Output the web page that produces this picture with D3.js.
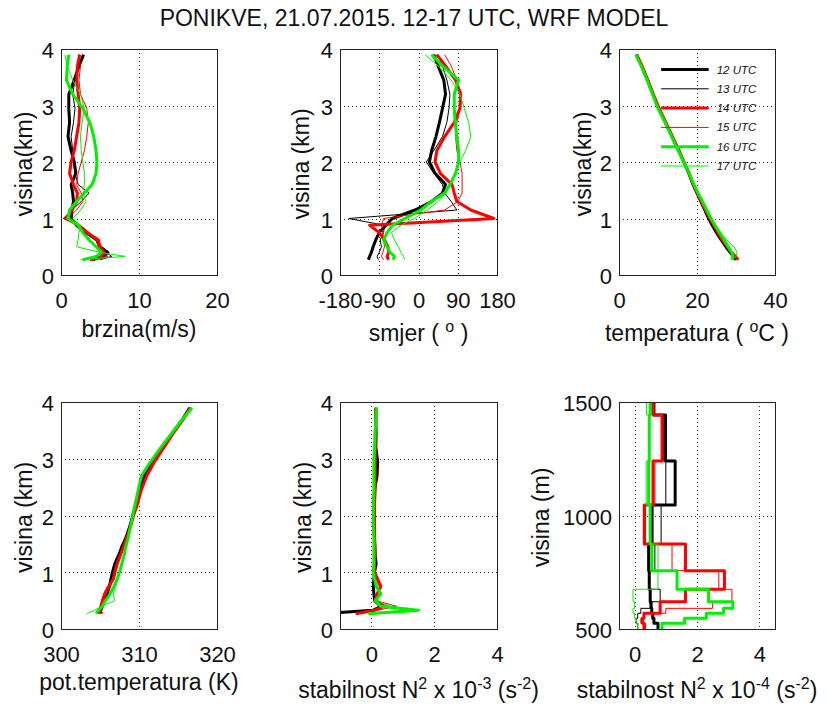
<!DOCTYPE html>
<html><head><meta charset="utf-8">
<script src="https://cdn.jsdelivr.net/npm/d3@7"></script>
<style>
body{margin:0;background:#fff}
svg{display:block}
text{font-family:"Liberation Sans",Arial,sans-serif;fill:#111}
</style>
</head><body>
<svg id="c" width="828" height="706"></svg>
<script>
// ---------------- DATA ----------------
const hours = ["12 UTC","13 UTC","14 UTC","15 UTC","16 UTC","17 UTC"];
const heights = [0.27,0.33,0.4,0.5,0.62,0.75,0.88,1.0,1.15,1.3,1.45,1.6,1.8,2.0,2.2,2.45,2.7,2.95,3.2,3.45,3.7,3.9];

const speed12 = [4.0,5.5,6.0,5.0,4.6,3.2,2.0,1.3,1.4,1.6,1.5,1.3,1.9,1.7,1.3,0.9,1.1,1.0,1.0,1.7,2.3,2.9];
const speed13 = [5.0,6.5,5.8,4.8,4.5,3.6,2.4,0.3,1.4,2.6,3.6,2.2,1.8,1.6,1.5,1.3,1.6,1.8,1.5,1.8,2.2,2.4];
const speed14 = [3.7,5.2,5.5,5.0,4.8,3.4,2.3,0.6,1.4,2.0,2.1,1.6,1.1,1.3,1.7,2.0,2.3,2.4,2.2,2.0,2.1,2.4];
const speed15 = [4.5,6.0,5.3,4.8,4.5,3.3,2.0,0.8,2.0,2.8,2.6,2.0,2.2,2.6,3.0,3.3,3.5,3.3,2.5,2.3,2.5,2.2];
const speed16 = [2.8,4.5,5.2,4.5,3.6,2.8,2.2,0.9,1.1,2.0,3.0,4.0,4.5,4.6,4.5,4.2,3.7,2.8,1.5,0.7,0.8,1.0];
const speed17 = [2.5,8.2,5.0,2.0,2.2,2.3,2.5,1.5,2.5,3.2,2.8,3.0,3.0,2.8,2.6,2.5,2.7,3.0,2.5,1.5,0.8,0.5];

const dir12 = [-115,-112,-108,-104,-98,-90,-75,-60,-8,30,55,62,38,25,30,40,48,55,62,58,45,35];
const dir13 = [-92,-95,-90,-85,-88,-80,-78,-160,88,75,60,55,35,18,35,55,65,70,72,65,55,45];
const dir14 = [-69,-72,-68,-70,-78,-90,-112,173,120,88,82,77,50,38,42,60,82,95,97,85,62,42];
const dir15 = [-80,-85,-82,-78,-80,-82,-85,-80,60,90,100,100,100,95,88,85,88,95,95,88,75,60];
const dir16 = [-58,-55,-65,-72,-80,-72,-60,-31,5,30,60,72,85,92,92,88,84,82,82,92,55,30];
const dir17 = [-31,-35,-40,-46,-55,-62,-40,-10,20,45,62,75,85,95,108,120,115,105,95,75,45,15];

const temp12 = [30.0,29.3,28.5,27.4,26.2,25.0,23.9,23.0,22.0,21.0,20.0,19.0,17.9,16.6,15.3,13.6,11.9,10.1,8.7,7.3,5.8,4.5];
const temp13 = [30.2,29.5,28.6,27.6,26.4,25.2,24.0,23.1,22.1,21.1,20.1,19.1,17.9,16.6,15.3,13.6,11.9,10.1,8.6,7.2,5.7,4.4];
const temp14 = [30.6,29.8,28.9,27.8,26.5,25.4,24.3,23.3,22.2,21.1,20.1,19.1,18.0,16.7,15.4,13.7,12.0,10.3,8.8,7.4,5.9,4.5];
const temp15 = [30.4,29.6,28.8,27.7,26.6,25.4,24.3,23.3,22.2,21.1,20.1,19.1,18.0,16.7,15.4,13.7,12.0,10.2,8.7,7.3,5.8,4.4];
const temp16 = [28.9,29.2,28.9,28.0,27.0,25.8,24.6,23.6,22.5,21.4,20.3,19.2,18.0,16.6,15.2,13.5,11.8,10.0,8.6,7.2,5.7,4.3];
const temp17 = [29.2,30.0,30.3,29.5,27.6,26.0,24.7,23.6,22.5,21.4,20.3,19.2,18.0,16.6,15.2,13.5,11.8,10.0,8.6,7.2,5.7,4.3];

const theta12 = [305.0,305.1,305.3,305.6,305.9,306.2,306.4,306.6,306.9,307.4,307.8,308.3,308.8,309.2,309.6,310.1,310.7,311.8,313.0,314.3,315.6,316.5];
const theta13 = [304.8,305.0,305.3,305.6,305.9,306.3,306.6,306.8,307.1,307.5,307.9,308.3,308.8,309.2,309.6,310.1,310.7,311.8,313.0,314.3,315.6,316.6];
const theta14 = [305.2,305.0,305.1,305.3,305.6,306.1,306.7,306.9,307.2,307.6,308.0,308.4,308.9,309.3,309.8,310.3,311.0,312.0,313.2,314.4,315.7,316.6];
const theta15 = [305.3,305.1,305.2,305.4,305.8,306.3,306.8,307.0,307.3,307.7,308.1,308.5,308.9,309.3,309.8,310.3,310.9,311.9,313.1,314.4,315.7,316.6];
const theta16 = [304.5,304.8,305.3,305.7,306.3,306.8,307.2,307.5,307.8,308.1,308.3,308.6,308.9,309.2,309.5,309.9,310.3,311.5,312.8,314.2,315.6,316.8];
const theta17 = [303.3,304.3,305.2,306.9,306.7,307.0,307.3,307.6,307.8,308.1,308.4,308.6,308.9,309.2,309.5,309.9,310.4,311.6,312.9,314.2,315.6,316.8];

const n2km12 = [-1.6,0.05,0.3,0.1,0.08,0.06,0.08,0.1,0.15,0.12,0.1,0.1,0.08,0.08,0.08,0.1,0.18,0.2,0.14,0.15,0.14,0.15];
const n2km13 = [-1.3,0.1,0.5,0.12,0.1,0.08,0.1,0.1,0.12,0.1,0.1,0.1,0.1,0.1,0.1,0.12,0.12,0.14,0.14,0.13,0.14,0.14];
const n2km14 = [-0.5,0.1,0.4,0.12,0.18,0.3,0.2,0.1,0.1,0.12,0.12,0.1,0.1,0.1,0.1,0.12,0.12,0.12,0.13,0.12,0.14,0.13];
const n2km15 = [-0.4,0.2,0.8,0.15,0.2,0.25,0.15,0.1,0.1,0.1,0.12,0.1,0.1,0.1,0.1,0.1,0.12,0.12,0.12,0.12,0.13,0.13];
const n2km16 = [-0.1,1.5,0.3,0.12,0.3,0.15,0.1,0.06,0.08,0.08,0.08,0.08,0.06,0.06,0.06,0.08,0.08,0.08,0.1,0.12,0.14,0.16];
const n2km17 = [0.0,1.05,0.6,0.2,0.25,0.2,0.1,0.08,0.08,0.08,0.08,0.08,0.08,0.07,0.08,0.08,0.1,0.1,0.1,0.12,0.14,0.15];

const layerEdges = [500,525,547,569,591,620,675,757,874,1046,1240,1443,1500];
const n2m12 = [0.75,0.62,0.58,0.55,0.53,0.50,0.47,0.45,0.56,1.30,0.99,0.62];
const n2m13 = [0.10,0.05,0.10,0.20,0.50,0.82,0.45,0.65,0.85,1.00,0.93,0.60];
const n2m14 = [0.30,0.25,0.30,0.82,0.82,1.63,2.88,1.63,0.31,0.59,0.88,0.60];
const n2m15 = [0.35,0.20,0.30,1.00,2.50,3.12,2.70,1.20,0.35,0.65,0.90,0.55];
const n2m16 = [0.88,1.60,2.30,2.85,3.15,2.37,1.36,0.55,0.50,0.45,0.47,0.50];
const n2m17 = [0.10,0.05,0.00,-0.05,0.00,-0.05,0.75,0.75,0.50,0.37,0.45,0.38];

const kmTicks = [0,1,2,3,4];
const speedTicks = [0,10,20];
const dirTicks = [-180,-90,0,90,180];
const tempTicks = [0,20,40];
const thetaTicks = [300,310,320];
const n2kmTicks = [0,2,4];
const n2mTicks = [0,2,4];
const mTicks = [500,1000,1500];

// ---------------- STYLE ----------------
const colors = ["#000000","#000000","#ff0000","#ff0000","#00f000","#00f000"];
const widths = [3,1,3,1,3,1];
const FONT_TICK = 22, FONT_LAB = 23, FONT_SUP = 16;

const svg = d3.select("#c");

function richText(parent, x, y, parts, opts={}) {
  const t = parent.append("text").attr("x", x).attr("y", y)
    .attr("text-anchor", "middle").attr("font-size", FONT_LAB);
  if (opts.rotate) t.attr("transform", `rotate(-90,${x},${y})`);
  let up = false;
  parts.forEach(p => {
    const isSup = Array.isArray(p);
    const s = t.append("tspan").text(isSup ? p[0] : p);
    if (isSup) { s.attr("dy", -9).attr("font-size", FONT_SUP); up = true; }
    else if (up) { s.attr("dy", 9); up = false; }
  });
  return t;
}

let clipN = 0;
function panel(cfg) {
  const x = d3.scaleLinear().domain(cfg.xDomain).range([cfg.left, cfg.right]);
  const y = d3.scaleLinear().domain(cfg.yDomain).range([cfg.bottom, cfg.top]);
  const g = svg.append("g");
  const cid = "clip" + (clipN++);
  svg.append("clipPath").attr("id", cid).append("rect")
    .attr("x", cfg.left).attr("y", cfg.top)
    .attr("width", cfg.right - cfg.left).attr("height", cfg.bottom - cfg.top);

  // grid
  const gx = cfg.xTicks.filter(d => d > cfg.xDomain[0] && d < cfg.xDomain[1]);
  const gy = cfg.yTicks.filter(d => d > cfg.yDomain[0] && d < cfg.yDomain[1]);
  g.append("g").selectAll("line").data(gx).join("line")
    .attr("x1", d => Math.round(x(d)) + 0.5).attr("x2", d => Math.round(x(d)) + 0.5)
    .attr("y1", cfg.top).attr("y2", cfg.bottom)
    .attr("stroke", "#333").attr("stroke-width", 1).attr("stroke-dasharray", "1,3");
  g.append("g").selectAll("line").data(gy).join("line")
    .attr("y1", d => Math.round(y(d)) + 0.5).attr("y2", d => Math.round(y(d)) + 0.5)
    .attr("x1", cfg.left).attr("x2", cfg.right)
    .attr("stroke", "#333").attr("stroke-width", 1).attr("stroke-dasharray", "1,3");

  // series
  const line = d3.line().x(d => x(d[0])).y(d => y(d[1]))
    .curve(cfg.step ? d3.curveStepBefore : d3.curveLinear);
  const lg = g.append("g").attr("clip-path", `url(#${cid})`);
  cfg.series.forEach((vals, i) => {
    const pts = vals.map((v, k) => [v, cfg.levels[k]]);
    if (cfg.step) pts.push([vals[vals.length - 1], cfg.levels[vals.length]]);
    lg.append("path").attr("d", line(pts)).attr("fill", "none")
      .attr("stroke", colors[i]).attr("stroke-width", widths[i])
      .attr("stroke-linejoin", "round").attr("stroke-linecap", "butt");
  });

  // box
  g.append("rect").attr("x", cfg.left + 0.5).attr("y", cfg.top + 0.5)
    .attr("width", cfg.right - cfg.left).attr("height", cfg.bottom - cfg.top)
    .attr("fill", "none").attr("stroke", "#222").attr("stroke-width", 1);

  // axes
  const fmt = d => String(d);
  const ax = g.append("g").attr("transform", `translate(0,${cfg.bottom})`)
    .call(d3.axisBottom(x).tickValues(cfg.xTicks).tickSize(0).tickFormat(fmt));
  ax.select(".domain").remove();
  ax.selectAll("text").attr("y", 33).attr("dy", null)
    .attr("font-size", FONT_TICK).attr("font-family", null).attr("fill", "#111");
  const ay = g.append("g").attr("transform", `translate(${cfg.left},0)`)
    .call(d3.axisLeft(y).tickValues(cfg.yTicks).tickSize(0).tickPadding(7).tickFormat(fmt));
  ay.select(".domain").remove();
  ay.selectAll("text").attr("dy", "0.40em")
    .attr("font-size", FONT_TICK).attr("font-family", null).attr("fill", "#111");

  // labels
  richText(svg, (cfg.left + cfg.right) / 2, cfg.xLabelY, cfg.xLabel);
  richText(svg, cfg.yLabelX, (cfg.top + cfg.bottom) / 2 + 2, cfg.yLabel, {rotate: true});
  return {x, y, g};
}

const topRow = {top: 49, bottom: 275, xLabelY: 337};
const botRow = {top: 402, bottom: 629, xLabelY: 690};
const col = [{left: 61, right: 217}, {left: 340, right: 497}, {left: 619, right: 775}];

panel({...topRow, ...col[0], xDomain: [0,20], yDomain: [0,4], xTicks: speedTicks, yTicks: kmTicks,
  levels: heights, series: [speed12,speed13,speed14,speed15,speed16,speed17],
  xLabel: ["brzina(m/s)"], yLabel: ["visina(km)"], yLabelX: 32});

panel({...topRow, ...col[1], xLabelY: 341, xDomain: [-180,180], yDomain: [0,4], xTicks: dirTicks, yTicks: kmTicks,
  levels: heights, series: [dir12,dir13,dir14,dir15,dir16,dir17],
  xLabel: ["smjer ( ", ["o"], " )"], yLabel: ["visina (km)"], yLabelX: 309});

const p3 = panel({...topRow, ...col[2], xLabelY: 341, xDomain: [0,40], yDomain: [0,4], xTicks: tempTicks, yTicks: kmTicks,
  levels: heights, series: [temp12,temp13,temp14,temp15,temp16,temp17],
  xLabel: ["temperatura ( ", ["o"], "C )"], yLabel: ["visina(km)"], yLabelX: 591});

panel({...botRow, ...col[0], xDomain: [300,320], yDomain: [0,4], xTicks: thetaTicks, yTicks: kmTicks,
  levels: heights, series: [theta12,theta13,theta14,theta15,theta16,theta17],
  xLabel: ["pot.temperatura (K)"], yLabel: ["visina (km)"], yLabelX: 32});

panel({...botRow, ...col[1], xLabelY: 698, xDomain: [-1,4], yDomain: [0,4], xTicks: n2kmTicks, yTicks: kmTicks,
  levels: heights, series: [n2km12,n2km13,n2km14,n2km15,n2km16,n2km17],
  xLabel: ["stabilnost N", ["2"], " x 10", ["-3"], " (s", ["-2"], ")"], yLabel: ["visina (km)"], yLabelX: 311});

panel({...botRow, ...col[2], xLabelY: 698, xDomain: [-0.5,4.5], yDomain: [500,1500], xTicks: n2mTicks, yTicks: mTicks,
  levels: layerEdges, step: true, series: [n2m12,n2m13,n2m14,n2m15,n2m16,n2m17],
  xLabel: ["stabilnost N", ["2"], " x 10", ["-4"], " (s", ["-2"], ")"], yLabel: ["visina (m)"], yLabelX: 549});

// legend in temperature panel
const legX0 = p3.x(10.8), legX1 = p3.x(23.0);
const leg = svg.append("g");
hours.forEach((h, i) => {
  const yy = 69.5 + i * 19.3;
  leg.append("line").attr("x1", legX0).attr("x2", legX1).attr("y1", yy).attr("y2", yy)
    .attr("stroke", colors[i]).attr("stroke-width", widths[i]);
  leg.append("text").attr("x", legX1 + 8).attr("y", yy + 4).attr("font-size", 11.5)
    .attr("font-style", "italic").attr("fill", "#333").text(h);
});

// title
svg.append("text").attr("x", 414).attr("y", 26).attr("text-anchor", "middle")
  .attr("font-size", 23).text("PONIKVE, 21.07.2015. 12-17 UTC, WRF MODEL");
</script>
</body></html>
